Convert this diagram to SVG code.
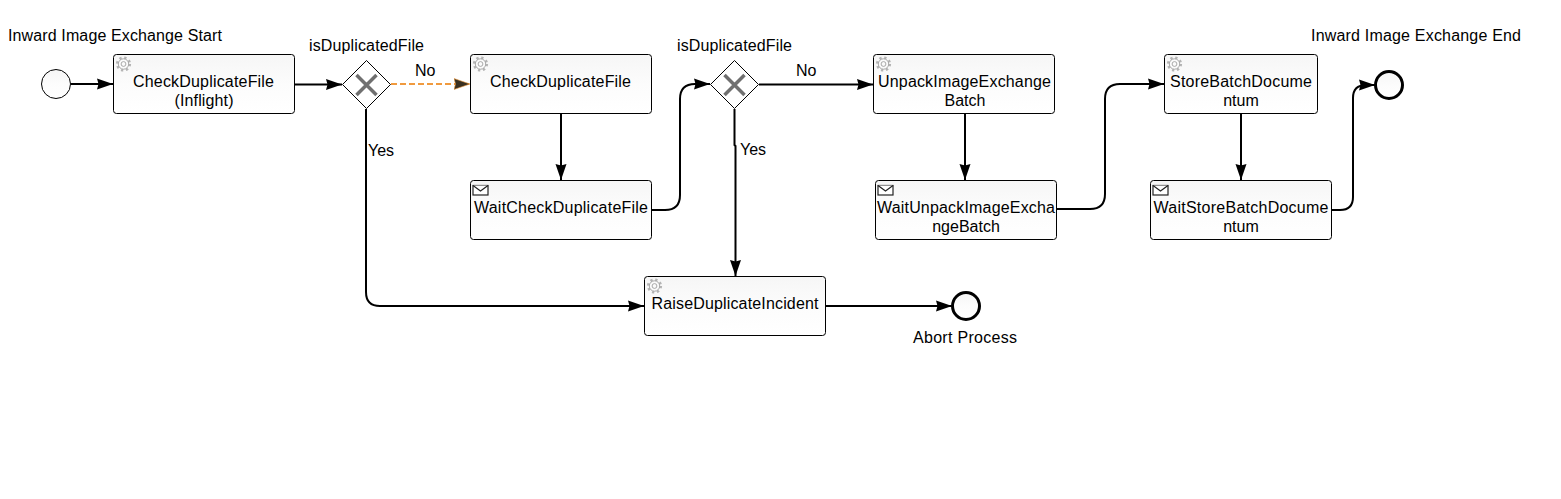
<svg xmlns="http://www.w3.org/2000/svg" width="1561" height="499" viewBox="0 0 1561 499">
<style>
text{font-family:"Liberation Sans",Arial,sans-serif;font-size:16px;fill:#000}
.m{text-anchor:middle}
.task{fill:url(#tg);stroke:#000;stroke-width:1}
.ev{fill:url(#tg);stroke:#000;stroke-width:1}
.end{fill:url(#tg);stroke:#000;stroke-width:3}
.gw{fill:#fff;stroke:#000;stroke-width:1}
.x{fill:none;stroke:#707070;stroke-width:3.500}
.c{fill:none;stroke:#000;stroke-width:2}
.o{fill:none;stroke:#f09a3e;stroke-width:2;stroke-dasharray:6 3}
.env{fill:#fff;stroke:#222;stroke-width:1.200}
</style>
<defs>
<linearGradient id="tg" x1="0" y1="0" x2="0" y2="1"><stop offset="0" stop-color="#f6f6f6"/><stop offset="0.5" stop-color="#fcfcfc"/><stop offset="1" stop-color="#fff"/></linearGradient>
<marker id="a" markerUnits="userSpaceOnUse" markerWidth="18" markerHeight="12" refX="16" refY="6" orient="auto"><path d="M0 0.500 L16 6 L0 11.500 L1.500 6 Z" fill="#000"/></marker>
<marker id="ao" markerUnits="userSpaceOnUse" markerWidth="18" markerHeight="12" refX="16" refY="6" orient="auto"><path d="M0 0.500 L16 6 L0 11.500 L1.500 6 Z" fill="#3a3020" stroke="#f09a3e" stroke-width="0.600"/></marker>
<g id="gear"><circle r="6.200" fill="none" stroke="#b4b4b4" stroke-width="2.800" stroke-dasharray="2.200 2.670"/><circle r="5.200" fill="#fbfbfb" stroke="#a0a0a0" stroke-width="0.900"/><circle r="2.400" fill="none" stroke="#a0a0a0" stroke-width="0.900"/></g>
<g id="env"><rect x="-7.500" y="-4.500" width="15" height="9.500" class="env"/><path d="M-7.500 -4.500 L0 1 L7.500 -4.500" class="env" fill="none"/></g>
</defs>
<rect width="1561" height="499" fill="#fff"/>
<g id="connectors">
<path class="c" marker-end="url(#a)" d="M71 84H113"/>
<path class="c" marker-end="url(#a)" d="M295 84.500H342"/>
<path class="o" marker-end="url(#ao)" d="M391 84H470"/>
<path class="c" marker-end="url(#a)" d="M366 109V292Q366 306 380 306H644"/>
<path class="c" marker-end="url(#a)" d="M561 114V180"/>
<path class="c" marker-end="url(#a)" d="M652 210H665Q680 210 680 195V99Q680 84 695 84H710"/>
<path class="c" marker-end="url(#a)" d="M734.500 109V145L735.500 146V276"/>
<path class="c" marker-end="url(#a)" d="M759 84.500H873"/>
<path class="c" marker-end="url(#a)" d="M965 114V180"/>
<path class="c" marker-end="url(#a)" d="M1057 209H1090Q1105 209 1105 194V99Q1105 84 1120 84H1164"/>
<path class="c" marker-end="url(#a)" d="M1241 114V180"/>
<path class="c" marker-end="url(#a)" d="M1332 210H1340Q1353 210 1353 197V98Q1353 85 1366 85H1375"/>
<path class="c" marker-end="url(#a)" d="M826 306H952"/>
</g>
<g id="start"><circle class="ev" cx="56" cy="84" r="14.500"/><text x="8" y="41" textLength="214">Inward Image Exchange Start</text></g>
<g id="task1"><rect class="task" x="113.500" y="54.500" width="181" height="59" rx="3"/><use href="#gear" x="123.500" y="64"/><text class="m" x="203.500" y="87" textLength="141">CheckDuplicateFile</text><text class="m" x="204" y="106" textLength="59">(Inflight)</text></g>
<g id="gateway1"><path class="gw" d="M366.500 60.500L390.500 84.500L366.500 108.500L342.500 84.500Z"/><path class="x" d="M356.500 75L376.500 95M376.500 75L356.500 95"/><text class="m" x="366.500" y="51" textLength="115">isDuplicatedFile</text></g>
<g id="task2"><rect class="task" x="470.500" y="54.500" width="181" height="59" rx="3"/><use href="#gear" x="480.500" y="64"/><text class="m" x="560.500" y="87" textLength="141">CheckDuplicateFile</text></g>
<g id="wait1"><rect class="task" x="470.500" y="180.500" width="181" height="59" rx="3"/><use href="#env" x="480.500" y="190"/><text class="m" x="561" y="213" textLength="174">WaitCheckDuplicateFile</text></g>
<g id="gateway2"><path class="gw" d="M734.500 60.500L758.500 84.500L734.500 108.500L710.500 84.500Z"/><path class="x" d="M724.500 75L744.500 95M744.500 75L724.500 95"/><text class="m" x="734.500" y="51" textLength="115">isDuplicatedFile</text></g>
<g id="task3"><rect class="task" x="873.500" y="54.500" width="181" height="59" rx="3"/><use href="#gear" x="883.500" y="64"/><text class="m" x="964.500" y="87" textLength="173">UnpackImageExchange</text><text class="m" x="965" y="106">Batch</text></g>
<g id="wait2"><rect class="task" x="875.500" y="180.500" width="181" height="59" rx="3"/><use href="#env" x="885.500" y="190"/><text class="m" x="966" y="213" textLength="178">WaitUnpackImageExcha</text><text class="m" x="966" y="232">ngeBatch</text></g>
<g id="task4"><rect class="task" x="1164.500" y="54.500" width="153" height="59" rx="3"/><use href="#gear" x="1174.500" y="64"/><text class="m" x="1241" y="87" textLength="142">StoreBatchDocume</text><text class="m" x="1241" y="106">ntum</text></g>
<g id="wait3"><rect class="task" x="1150.500" y="180.500" width="181" height="59" rx="3"/><use href="#env" x="1160.500" y="190"/><text class="m" x="1241" y="213" textLength="175">WaitStoreBatchDocume</text><text class="m" x="1241" y="232">ntum</text></g>
<g id="end1"><circle class="end" cx="1389" cy="85" r="13.500"/><text x="1311" y="41" textLength="210">Inward Image Exchange End</text></g>
<g id="raise"><rect class="task" x="644.500" y="276.500" width="181" height="59" rx="3"/><use href="#gear" x="654.500" y="286"/><text class="m" x="735" y="309" textLength="167">RaiseDuplicateIncident</text></g>
<g id="abort"><circle class="end" cx="966" cy="306" r="13.500"/><text class="m" x="965" y="343" textLength="104">Abort Process</text></g>
<text id="lblNo1" x="415" y="76">No</text>
<text id="lblYes1" x="368" y="156">Yes</text>
<text id="lblNo2" x="796" y="76">No</text>
<text id="lblYes2" x="740" y="155">Yes</text>
</svg>
